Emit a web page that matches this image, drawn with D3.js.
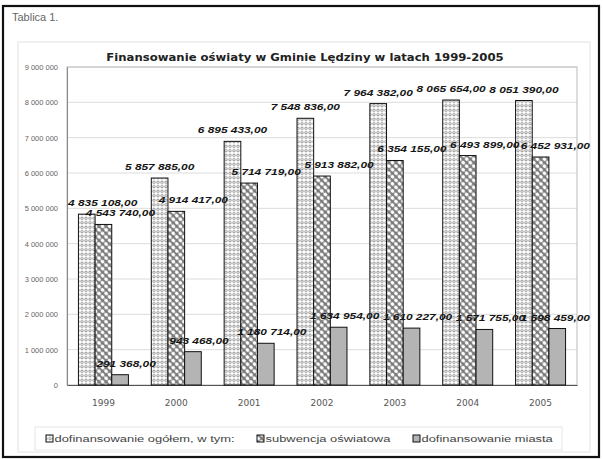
<!DOCTYPE html>
<html><head><meta charset="utf-8">
<script src="https://cdn.jsdelivr.net/npm/d3@7"></script>
<style>body{margin:0;background:#fff}svg{display:block}</style>
</head><body>
<svg id="c" width="603" height="459"></svg>
<script>
const years = ["1999","2000","2001","2002","2003","2004","2005"];
const seriesNames = ["dofinansowanie ogółem, w tym:","subwencja oświatowa","dofinansowanie miasta"];
const totalValues = [4835108, 5857885, 6895433, 7548836, 7964382, 8065654, 8051390];
const subwencjaValues = [4543740, 4914417, 5714719, 5913882, 6354155, 6493899, 6452931];
const miastaValues = [291368, 943468, 1180714, 1634954, 1610227, 1571755, 1598459];
const yTicks = [0,1000000,2000000,3000000,4000000,5000000,6000000,7000000,8000000,9000000];
const titleText = "Finansowanie oświaty w Gminie Lędziny w latach 1999-2005";
const captionText = "Tablica 1.";

(function(){
const seriesValues = [totalValues, subwencjaValues, miastaValues];
const svg = d3.select("#c");
const defs = svg.append("defs");
const SX = 1.32; // horizontal stretch of the scanned lettering

// patterns
const p1 = defs.append("pattern").attr("id","pat1").attr("patternUnits","userSpaceOnUse").attr("width",4).attr("height",4.5);
p1.append("rect").attr("width",4).attr("height",4.5).attr("fill","#fff");
p1.append("circle").attr("cx",2).attr("cy",2.25).attr("r",1.25).attr("fill","#fff").attr("stroke","#666").attr("stroke-width",0.7);
const p2 = defs.append("pattern").attr("id","pat2").attr("patternUnits","userSpaceOnUse").attr("width",5).attr("height",5).attr("patternTransform","rotate(45)");
p2.append("rect").attr("width",5).attr("height",5).attr("fill","#7a7a7a");
p2.append("ellipse").attr("cx",2.5).attr("cy",2.5).attr("rx",2.1).attr("ry",1.7).attr("fill","#fff");
const fills = ["url(#pat1)","url(#pat2)","#b4b4b4"];

// frames
svg.append("rect").attr("x",3).attr("y",6).attr("width",596).attr("height",451).attr("fill","none").attr("stroke","#111").attr("stroke-width",2.2);
svg.append("text").attr("transform","translate(12,21) scale(1.1,1)").attr("font-family","Liberation Sans, Arial, sans-serif").attr("font-size",10).attr("fill","#666").text(captionText);
svg.append("rect").attr("x",18).attr("y",42).attr("width",572).attr("height",410).attr("fill","none").attr("stroke","#e2e2e2").attr("stroke-width",1);

const pL = 67, pR = 577, pT = 67, pB = 385;
const x0 = d3.scaleBand().domain(years).range([pL,pR]).padding(0);
const bw = x0.bandwidth();
const x1 = d3.scaleBand().domain([0,1,2]).range([bw*0.157, bw*0.843]).padding(0);
const y = d3.scaleLinear().domain([0,9000000]).range([pB, pT]);

// gridlines
svg.append("g").selectAll("line").data(yTicks.filter(d=>d>0)).join("line")
  .attr("x1",pL).attr("x2",pR).attr("y1",d=>y(d)).attr("y2",d=>y(d))
  .attr("stroke","#dcdcdc").attr("stroke-width",1);
svg.append("rect").attr("x",pL).attr("y",pT).attr("width",pR-pL).attr("height",pB-pT)
  .attr("fill","none").attr("stroke","#bbb").attr("stroke-width",1);

// y axis
const yAxis = d3.axisLeft(y).tickValues(yTicks).tickSize(0).tickPadding(9)
  .tickFormat(d => d3.format(",")(d).replace(/,/g," "));
const gy = svg.append("g").attr("transform",`translate(${pL},0)`).call(yAxis);
gy.select(".domain").attr("stroke","#888");
gy.selectAll("text").attr("font-family","Liberation Sans, Arial, sans-serif").attr("font-size",7.5).attr("fill","#666");

// x axis
const xAxis = d3.axisBottom(x0).tickSize(0).tickPadding(15);
const gx = svg.append("g").attr("transform",`translate(0,${pB})`).call(xAxis);
gx.select(".domain").attr("stroke","#555");
gx.selectAll("text").attr("font-family","DejaVu Sans, sans-serif").attr("font-size",9).attr("fill","#555");

// bars
const flat = [];
years.forEach((yr,i)=>seriesValues.forEach((vals,s)=>flat.push({yr,s,v:vals[i]})));
svg.append("g").selectAll("rect").data(flat).join("rect")
  .attr("x",d=>x0(d.yr)+x1(d.s)).attr("width",x1.bandwidth())
  .attr("y",d=>y(d.v)).attr("height",d=>pB-y(d.v))
  .attr("fill",d=>fills[d.s]).attr("stroke","#111").attr("stroke-width",1);

// labels
const fmt = v => d3.format(",.2f")(v).replace(/,/g," ").replace(".",",");
const dxs = [0, 17, 6];
const lab = svg.append("g").attr("font-family","Liberation Sans, Arial, sans-serif").attr("font-size",9).attr("font-weight","bold").attr("font-style","italic").attr("fill","#151515");
flat.forEach(d=>{
  const t = lab.append("text").attr("text-anchor","middle").text(fmt(d.v));
  let cx = x0(d.yr)+x1(d.s)+x1.bandwidth()/2+dxs[d.s];
  const w = t.node().getComputedTextLength()*SX;
  if (cx - w/2 < pL+1) cx = pL+1+w/2;
  if (cx + w/2 > 590) cx = 590-w/2;
  t.attr("transform",`translate(${cx},${y(d.v)-8}) scale(${SX},1)`);
});

// title
svg.append("text").attr("transform","translate(305,61) scale(1.06,1)").attr("text-anchor","middle")
  .attr("font-family","DejaVu Sans, sans-serif").attr("font-size",11).attr("font-weight","bold").attr("fill","#222").text(titleText);

// legend
svg.append("rect").attr("x",35).attr("y",427).attr("width",527).attr("height",23).attr("fill","none").attr("stroke","#e6e6e6");
const legX = [46, 257, 413];
const lg = svg.append("g");
seriesNames.forEach((n,i)=>{
  lg.append("rect").attr("x",legX[i]).attr("y",435).attr("width",7).attr("height",7).attr("fill",fills[i]).attr("stroke","#111").attr("stroke-width",1);
  lg.append("text").attr("transform",`translate(${legX[i]+8.5},442) scale(1.36,1)`).attr("font-family","Liberation Sans, Arial, sans-serif").attr("font-size",9.5).attr("fill","#444").text(n);
});
})();
</script>
</body></html>
